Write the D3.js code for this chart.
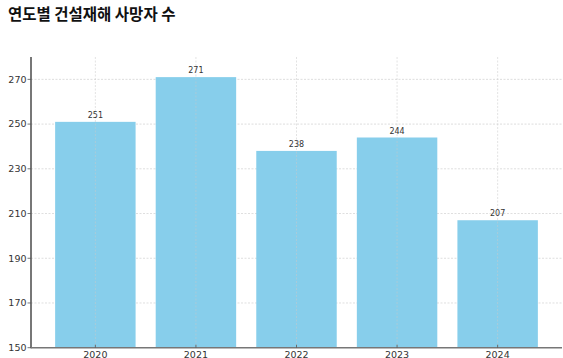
<!DOCTYPE html>
<html><head><meta charset="utf-8">
<script src="https://cdn.jsdelivr.net/npm/d3@7"></script>
<style>body{margin:0;background:#fff}svg{display:block}</style>
</head><body>
<svg id="c" width="563" height="358"></svg>
<script>
const title = "연도별 건설재해 사망자 수";
const years = ["2020","2021","2022","2023","2024"];
const deaths = [251, 271, 238, 244, 207];
const yTicks = [150,170,190,210,230,250,270];

const svg = d3.select("#c");
const L = 31, R = 562, T = 57, B = 347.7;
const step = (R - L) / 5.28;
const x = d3.scaleLinear().domain([-0.64, 4.64]).range([L, R]);
const xc = d => x(years.indexOf(d));
const bw = 0.8 * step;
const y = d3.scaleLinear().domain([150, 280]).range([B, T]);

// grid
svg.append("g").selectAll("line").data(yTicks.slice(1)).join("line")
  .attr("x1", L).attr("x2", R).attr("y1", d => y(d)).attr("y2", d => y(d))
  .attr("stroke", "#d6d6d6").attr("stroke-width", 0.8).attr("stroke-dasharray", "2,1.5");

// bars
svg.append("g").selectAll("rect").data(deaths).join("rect")
  .attr("x", (d,i) => xc(years[i]) - bw/2).attr("width", bw)
  .attr("y", d => y(d)).attr("height", d => B - y(d))
  .attr("fill", "#87CEEB");

// vertical grid on top
svg.append("g").selectAll("line").data(years).join("line")
  .attr("x1", d => xc(d)).attr("x2", d => xc(d)).attr("y1", T).attr("y2", B)
  .attr("stroke", "#c8c8c8").attr("stroke-opacity", 0.65).attr("stroke-width", 0.8).attr("stroke-dasharray", "2,1.5");

// value labels
svg.append("g").selectAll("text").data(deaths).join("text")
  .attr("x", (d,i) => xc(years[i])).attr("y", d => y(d) - 4)
  .attr("text-anchor", "middle").attr("font-family", "DejaVu Sans").attr("font-size", 8)
  .attr("fill", "#333").text(d => d);

// axes
svg.append("line").attr("x1", L).attr("x2", L).attr("y1", T).attr("y2", B+0.5)
  .attr("stroke", "#555").attr("stroke-width", 1.6);
svg.append("line").attr("x1", L).attr("x2", R).attr("y1", B).attr("y2", B)
  .attr("stroke", "#777").attr("stroke-width", 1.4);

const yt = svg.append("g");
yt.selectAll("line").data(yTicks).join("line")
  .attr("x1", L - 3.5).attr("x2", L).attr("y1", d => y(d)).attr("y2", d => y(d))
  .attr("stroke", "#555").attr("stroke-width", 0.8);
yt.selectAll("text").data(yTicks).join("text")
  .attr("x", L - 4.5).attr("y", d => y(d)).attr("dy", "0.35em")
  .attr("text-anchor", "end").attr("font-family", "DejaVu Sans").attr("font-size", 9.5)
  .attr("fill", "#333").text(d => d);

const xt = svg.append("g");
xt.selectAll("line").data(years).join("line")
  .attr("x1", d => xc(d)).attr("x2", d => xc(d)).attr("y1", B - 3).attr("y2", B)
  .attr("stroke", "#555").attr("stroke-width", 0.8);
xt.selectAll("text").data(years).join("text")
  .attr("x", d => xc(d)).attr("y", B + 10.2)
  .attr("text-anchor", "middle").attr("font-family", "DejaVu Sans").attr("font-size", 9.5)
  .attr("fill", "#333").text(d => d);

svg.append("text").attr("x", 8).attr("y", 20)
  .attr("font-family", "'Noto Sans CJK KR'").attr("font-weight", "bold").attr("font-size", 15.5)
  .attr("fill", "#111").text(title);
</script>
</body></html>
